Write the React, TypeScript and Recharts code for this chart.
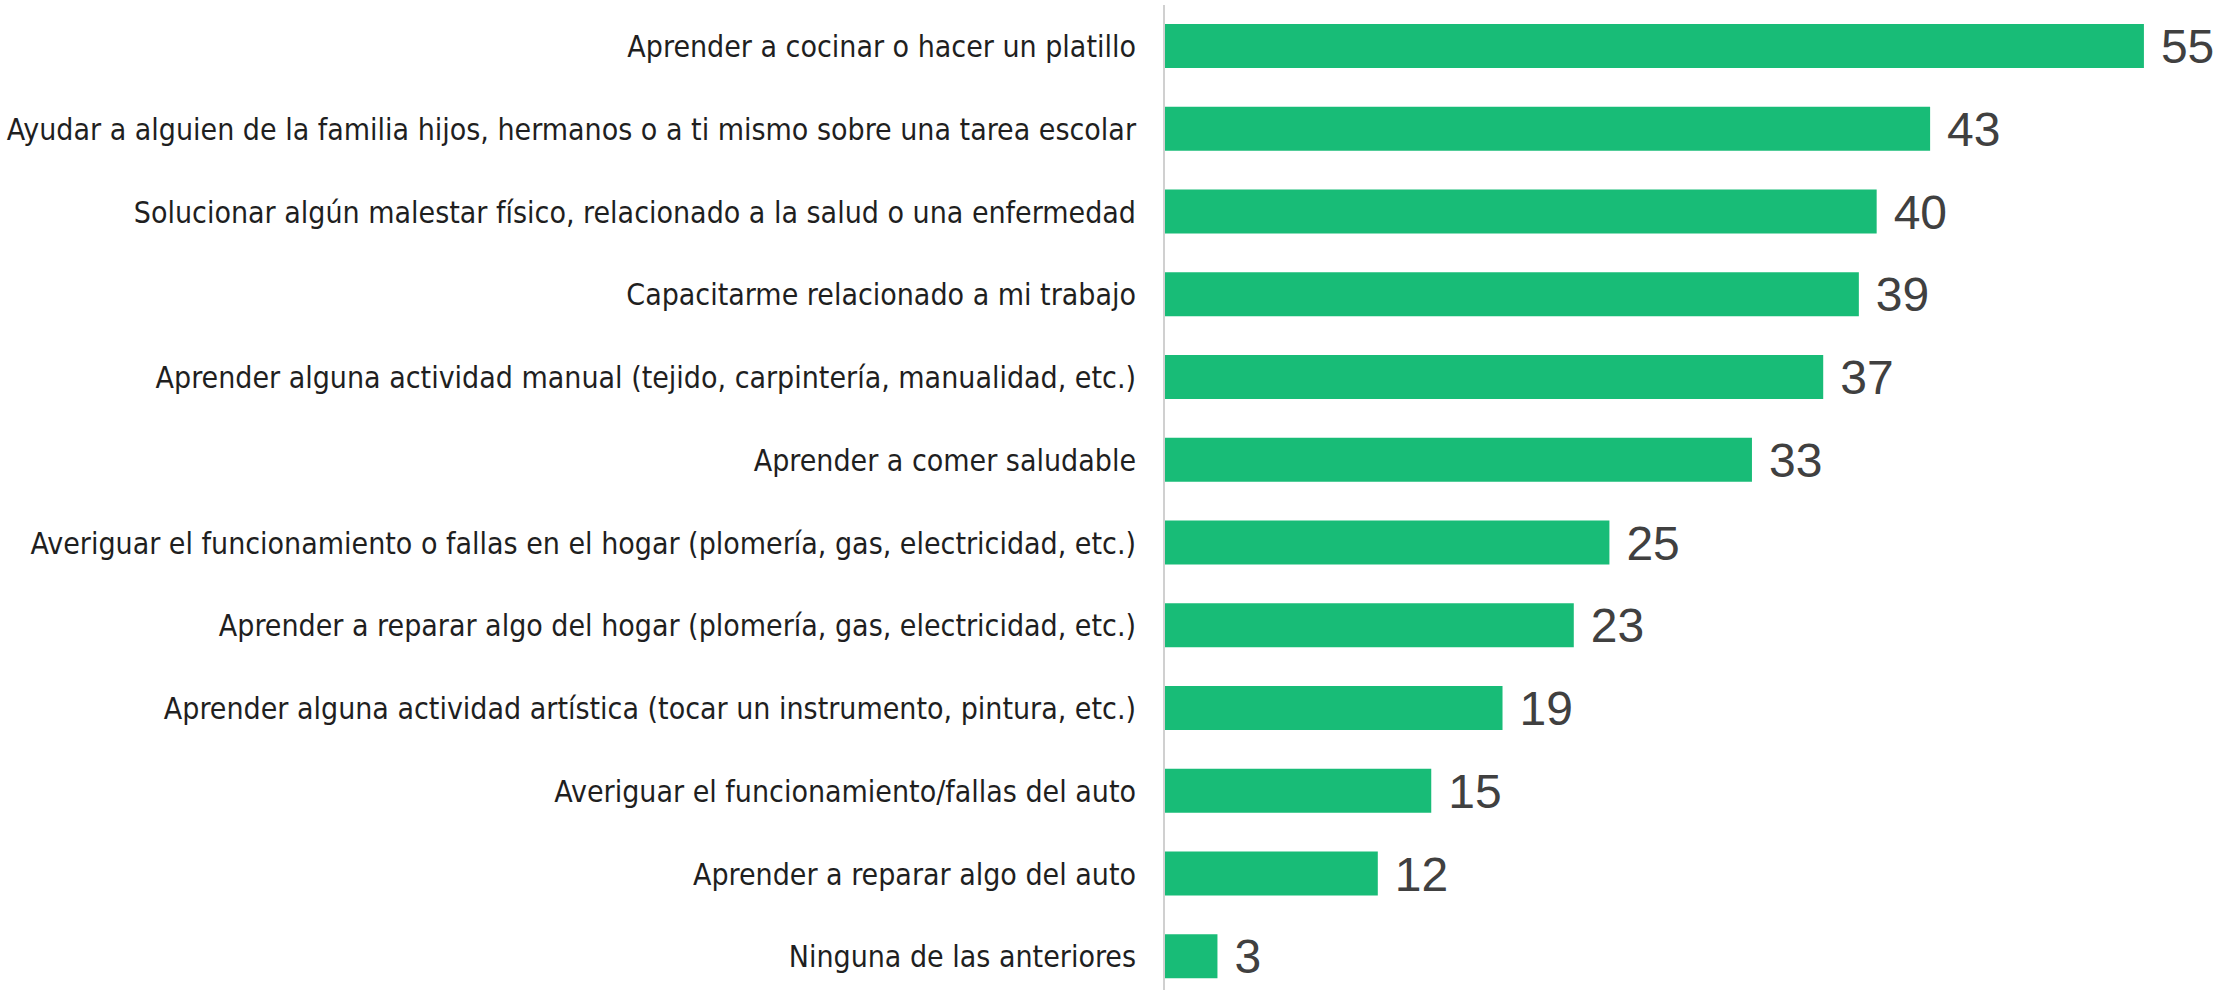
import React from 'react'
import { BarChart, Bar, XAxis, YAxis, LabelList } from 'recharts'

const categories = [
  'Aprender a cocinar o hacer un platillo',
  'Ayudar a alguien de la familia hijos, hermanos o a ti mismo sobre una tarea escolar',
  'Solucionar algún malestar físico, relacionado a la salud o una enfermedad',
  'Capacitarme relacionado a mi trabajo',
  'Aprender alguna actividad manual (tejido, carpintería, manualidad, etc.)',
  'Aprender a comer saludable',
  'Averiguar el funcionamiento o fallas en el hogar (plomería, gas, electricidad, etc.)',
  'Aprender a reparar algo del hogar (plomería, gas, electricidad, etc.)',
  'Aprender alguna actividad artística (tocar un instrumento, pintura, etc.)',
  'Averiguar el funcionamiento/fallas del auto',
  'Aprender a reparar algo del auto',
  'Ninguna de las anteriores',
]

const values = [55, 43, 40, 39, 37, 33, 25, 23, 19, 15, 12, 3]

const data = categories.map((name, i) => ({ name, value: values[i] }))

export default function App() {
  return (
    <div
      style={{
        position: 'fixed',
        top: 0,
        left: 0,
        width: 2239,
        height: 990,
        overflow: 'hidden',
        background: '#fff',
      }}
    >
      <BarChart
        width={2239}
        height={998}
        data={data}
        layout="vertical"
        margin={{ top: 5, right: 6, left: 0, bottom: 0 }}
      >
        <XAxis type="number" domain={[0, 60]} hide />
        <YAxis
          type="category"
          dataKey="name"
          width={1164}
          interval={0}
          tickLine={false}
          tickSize={0}
          tickMargin={28}
          axisLine={{ stroke: '#d0d0d0', strokeWidth: 2 }}
          tick={{
            fill: '#1f1f1f',
            fontSize: 30,
            fontFamily: '"DejaVu Sans Condensed", sans-serif',
          }}
        />
        <Bar dataKey="value" fill="#18bc77" barSize={44} isAnimationActive={false}>
          <LabelList
            dataKey="value"
            position="right"
            offset={17}
            fill="#404040"
            fontSize={48}
            fontFamily='"Liberation Sans", Arial, sans-serif'
          />
        </Bar>
      </BarChart>
    </div>
  )
}
